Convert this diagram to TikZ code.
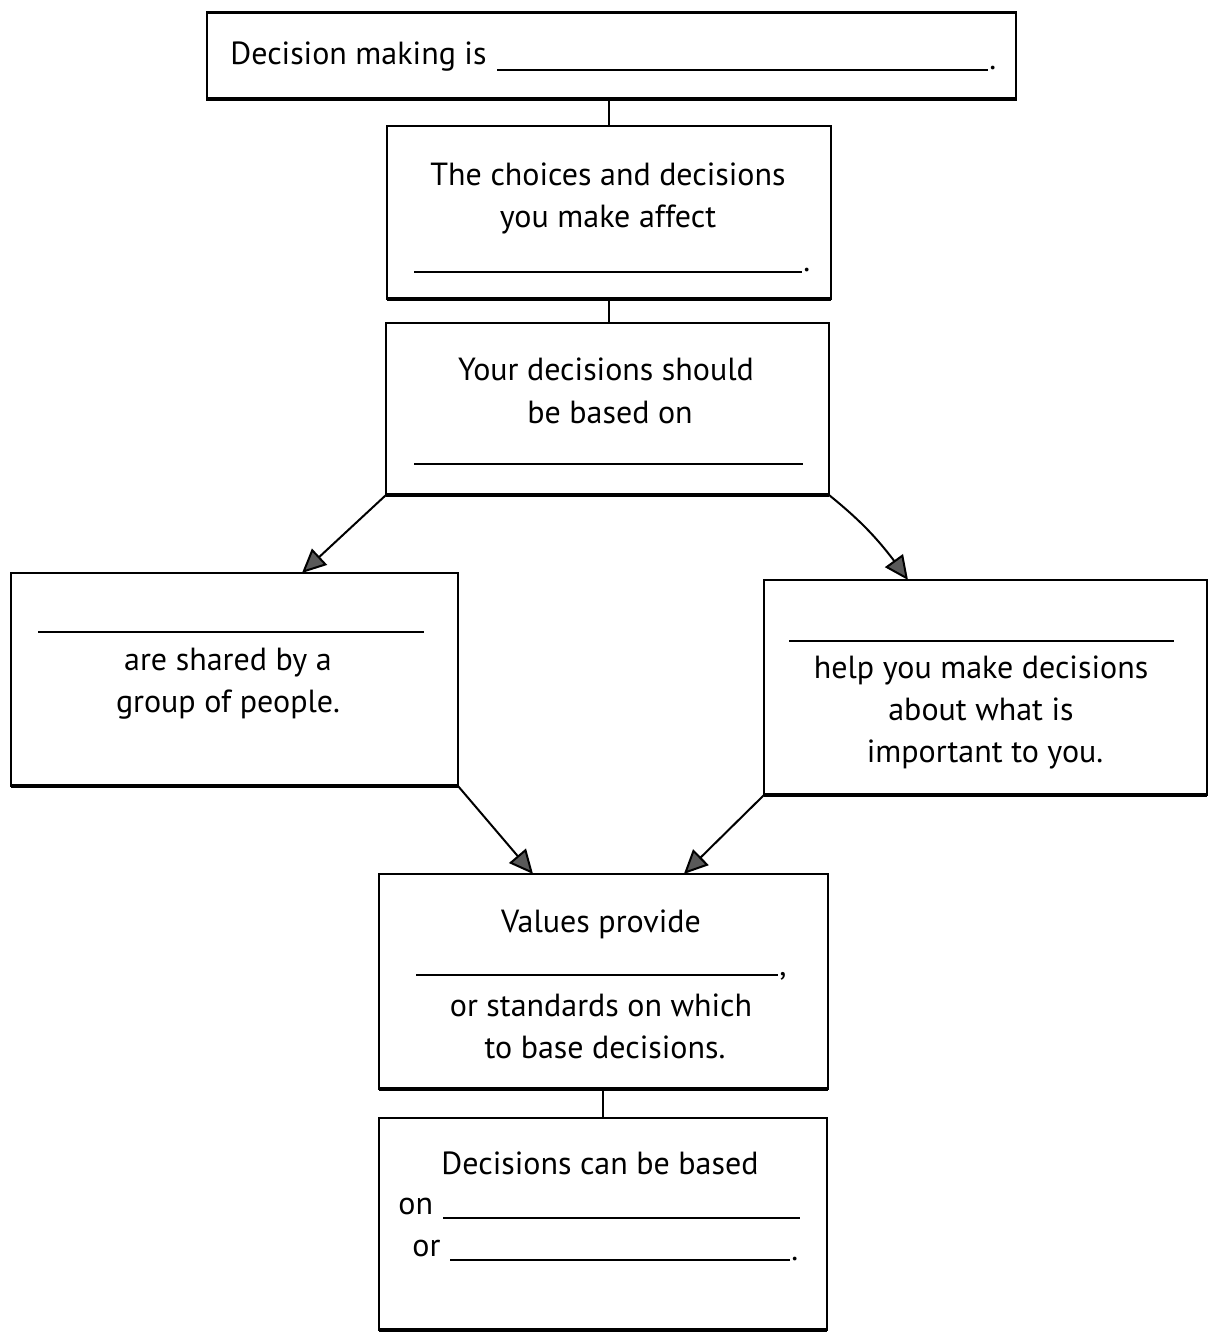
\documentclass[tikz,border=0pt]{standalone}
\usepackage{fontspec}
\setmainfont{PT Sans}
\usetikzlibrary{arrows.meta,calc,bending}
\begin{document}
\begin{tikzpicture}[x=0.5pt,y=-0.5pt,
  box/.style={draw,line width=1.1pt,inner sep=0pt,outer sep=0pt},
  base/.style={line width=2pt},
  txt/.style={anchor=base,inner sep=0pt,font=\fontsize{16}{19}\selectfont},
  txtw/.style={anchor=base west,inner sep=0pt,font=\fontsize{16}{19}\selectfont},
  blank/.style={line width=0.9pt},
  link/.style={line width=1pt},
  arr/.style={line width=1pt,-{Triangle[length=12pt,width=11pt,fill=black!65]}}]
\useasboundingbox (0,0) rectangle (1210,1336);
\fill[white] (0,0) rectangle (1210,1336);

% boxes
\node[box,minimum width=404.5pt,minimum height=43.5pt] (b1) at (611.5,56) {};
\node[box,minimum width=222pt,minimum height=86.5pt] (b2) at (609,212.5) {};
\node[box,minimum width=221.5pt,minimum height=86pt] (b3) at (607.5,409) {};
\node[box,minimum width=223.5pt,minimum height=106.5pt] (b4) at (234.5,679.5) {};
\node[box,minimum width=221.5pt,minimum height=107.5pt] (b5) at (985.5,687.5) {};
\node[box,minimum width=224.5pt,minimum height=107.5pt] (b6) at (603.5,981.5) {};
\node[box,minimum width=224pt,minimum height=106pt] (b7) at (603,1224) {};
\foreach \b in {b1,b2,b3,b4,b5,b6,b7}{
  \draw[base] (\b.south west) -- (\b.south east);
}

% box 1
\node[txtw] (t1) at (230,65) {Decision making is};
\draw[blank] (497,70) -- (988,70);
\node[txtw] (p1) at (989,70) {.};

% box 2
\node[txt] (t2a) at (608,186) {The choices and decisions};
\node[txt] (t2b) at (608,228) {you make affect};
\draw[blank] (414,272) -- (802,272);
\node[txtw] (p2) at (803,272) {.};

% box 3
\node[txt] (t3a) at (606,381) {Your decisions should};
\node[txt] (t3b) at (610,423) {be based on};
\draw[blank] (414,464) -- (803,464);

% box 4
\draw[blank] (38,632) -- (424,632);
\node[txt] (t4a) at (228,670) {are shared by a};
\node[txt] (t4b) at (228,712) {group of people.};

% box 5
\draw[blank] (789,641) -- (1174,641);
\node[txt] (t5a) at (981,678) {help you make decisions};
\node[txt] (t5b) at (981,720) {about what is};
\node[txt] (t5c) at (985,762) {important to you.};

% box 6
\node[txt] (t6a) at (601,932) {Values provide};
\draw[blank] (416,975) -- (778,975);
\node[txtw] (p6) at (779,975) {,};
\node[txt] (t6b) at (601,1016) {or standards on which};
\node[txt] (t6c) at (605,1058) {to base decisions.};

% box 7
\node[txt] (t7a) at (600,1174) {Decisions can be based};
\node[txtw] (t7b) at (398,1214) {on};
\draw[blank] (443,1218) -- (800,1218);
\node[txtw] (t7c) at (412,1256) {or};
\draw[blank] (450,1260) -- (790,1260);
\node[txtw] (p7) at (791,1260) {.};

% vertical links
\draw[link] (b2.north) -- (b2.north |- b1.south);
\draw[link] (b2.south) -- (b2.south |- b3.north);
\draw[link] (b7.north) -- (b7.north |- b6.south);

% arrows
\draw[arr] (b3.south west) -- ($(b4.north west)!0.651!(b4.north east)$);
\draw[arr] (b3.south east) to[bend left=8] ($(b5.north west)!0.325!(b5.north east)$);
\draw[arr] (b4.south east) -- ($(b6.north west)!0.343!(b6.north east)$);
\draw[arr] (b5.south west) -- ($(b6.north west)!0.679!(b6.north east)$);
\end{tikzpicture}
\end{document}
